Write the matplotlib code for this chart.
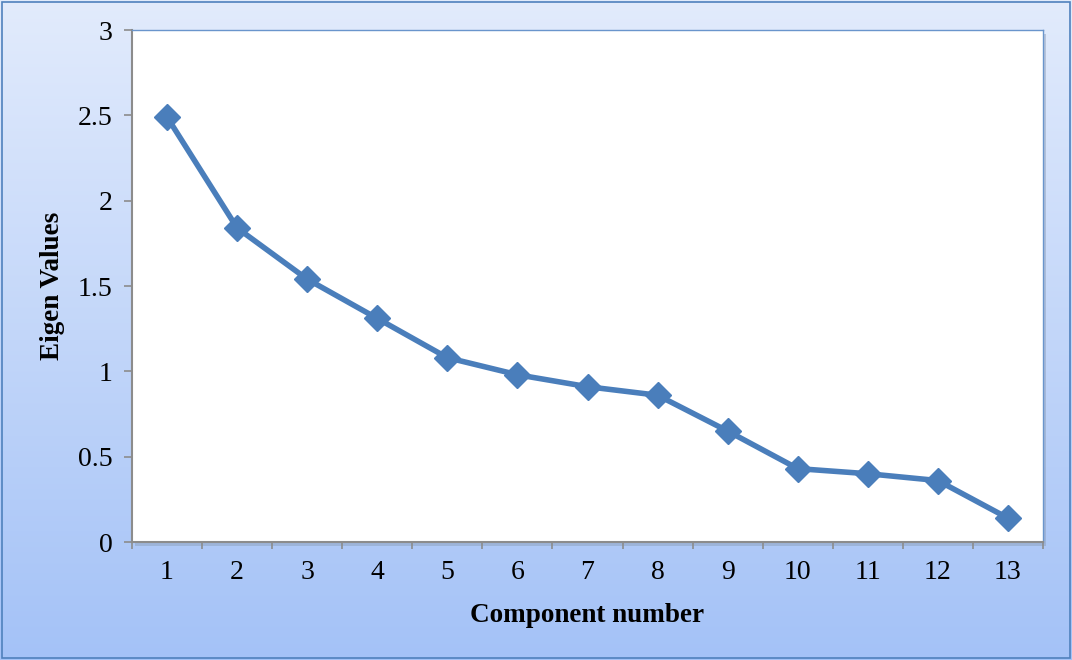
import numpy as np
import matplotlib.pyplot as plt
from matplotlib.patches import Rectangle

components = [str(i) for i in range(1, 14)]
eigen_values = [2.49, 1.84, 1.54, 1.31, 1.08, 0.98, 0.91, 0.86, 0.65, 0.43, 0.40, 0.36, 0.14]
y_ticks = [0, 0.5, 1, 1.5, 2, 2.5, 3]
y_tick_labels = ["0", "0.5", "1", "1.5", "2", "2.5", "3"]

plt.rcParams['font.family'] = ['Liberation Serif', 'DejaVu Serif']

W, H = 1072, 660
fig = plt.figure(figsize=(W / 100, H / 100), dpi=100)

# vertical gradient background for the chart area
bg = fig.add_axes([0, 0, 1, 1], zorder=0)
top = np.array([0.886, 0.922, 0.988])
bot = np.array([0.643, 0.761, 0.969])
t = np.linspace(0, 1, 256)[:, None]
grad = top[None, :] * (1 - t) + bot[None, :] * t
bg.imshow(grad[:, None, :], aspect='auto', extent=[0, 1, 0, 1], origin='upper')
bg.add_patch(Rectangle((0.002, 0.003), 0.996, 0.994, fill=False,
                       edgecolor='#4f81bd', linewidth=1.2, transform=bg.transAxes))
bg.set_axis_off()

# plot area in pixel coordinates
left, right, top_px, bottom_px = 132, 1043, 30, 542
ax = fig.add_axes([left / W, 1 - bottom_px / H, (right - left) / W, (bottom_px - top_px) / H], zorder=2)

# soft shadow behind the plot area
shadow = Rectangle(((left + 3) / W, 1 - (bottom_px + 4) / H), (right - left) / W, (bottom_px - top_px) / H,
                   transform=fig.transFigure, facecolor='#8a9bb5', alpha=0.45, zorder=1)
fig.patches.append(shadow)

ax.set_facecolor('white')
x = np.arange(len(components))
ax.plot(x, eigen_values, color='#4a7ebb', linewidth=4.0, marker='D', markersize=13,
        markerfacecolor='#4a7ebb', markeredgecolor='#4a7ebb', zorder=3, clip_on=False)

ax.set_xlim(-0.5, len(components) - 0.5)
ax.set_ylim(0, 3)
ax.set_yticks(y_ticks)
ax.set_yticklabels(y_tick_labels)
ax.set_xticks(x)
ax.set_xticklabels(components)
ax.set_xticks(np.arange(-0.5, len(components)), minor=True)
ax.tick_params(axis='x', which='major', length=0, pad=13, labelsize=20)
ax.tick_params(axis='x', which='minor', length=5, color='#8c8c8c', width=1.2)
ax.tick_params(axis='y', length=6, color='#8c8c8c', width=1.2, pad=8, labelsize=20)

for side in ['top', 'right']:
    ax.spines[side].set_color('#6a95cc')
    ax.spines[side].set_linewidth(1.0)
for side in ['left', 'bottom']:
    ax.spines[side].set_color('#8c8c8c')
    ax.spines[side].set_linewidth(1.5)

ax.set_xlabel('Component number', fontsize=19.5, fontweight='bold', labelpad=13)
ax.set_ylabel('Eigen Values', fontsize=19.5, fontweight='bold', labelpad=9)

fig.savefig('out.png', dpi=100)
